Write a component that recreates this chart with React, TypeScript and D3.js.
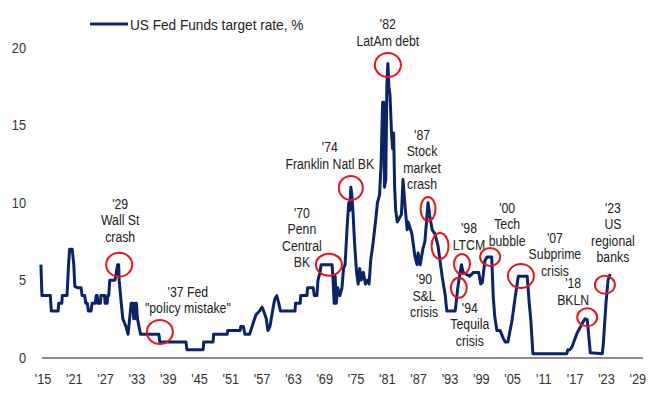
import * as d3 from "d3";

// discount-rate era: [year, rate %]
const earlyRates: [number, number][] = [
  [1914.6, 6], [1914.8, 4], [1916.4, 4], [1916.6, 3], [1917.9, 3], [1918.0, 3.5],
  [1918.6, 3.5], [1918.7, 4], [1919.6, 4], [1919.9, 6], [1920.1, 7], [1920.6, 7],
  [1920.9, 6], [1921.1, 4.6], [1921.7, 4.5], [1922.3, 4.5], [1922.5, 4], [1923.0, 4],
  [1923.2, 3.5], [1923.5, 3.5], [1923.7, 3], [1924.2, 3], [1924.4, 3.5], [1925.0, 3.5],
  [1925.2, 4], [1925.4, 4], [1925.5, 3.5], [1926.0, 3.5], [1926.1, 4], [1926.8, 4],
  [1926.9, 3.5], [1927.3, 3.5], [1927.4, 4], [1927.6, 4], [1927.8, 5], [1928.8, 5],
  [1929.3, 6], [1929.5, 6], [1929.6, 5], [1930.0, 3.5], [1930.3, 2.5], [1930.9, 2],
  [1931.3, 1.5], [1931.6, 2.5], [1931.9, 3.5], [1932.2, 3.5], [1932.4, 2.5], [1932.6, 2.5],
  [1932.7, 3.5], [1932.9, 3.5], [1933.1, 2.5], [1933.4, 2], [1933.7, 1.5], [1937.2, 1.5],
  [1937.4, 1], [1942.4, 1], [1942.6, 0.5], [1945.7, 0.5], [1945.8, 1], [1947.6, 1],
  [1947.7, 1.5], [1950.3, 1.5], [1950.4, 1.75], [1952.8, 1.75], [1952.9, 2], [1953.4, 2],
  [1953.7, 1.5],
];

const midRates: [number, number][] = [
  [1954.6, 1.5], [1955.3, 2.25], [1955.8, 2.75], [1956.5, 3], [1957.0, 3.25], [1957.3, 3],
  [1957.8, 2.5], [1958.1, 1.75], [1958.5, 2], [1959.0, 3], [1959.4, 3.75], [1959.8, 4],
  [1960.2, 3.5], [1960.5, 3], [1963.3, 3], [1963.4, 3.5], [1964.3, 3.5], [1964.4, 4],
  [1965.6, 4], [1965.7, 4.5], [1966.8, 4.5], [1967.0, 4], [1967.5, 4], [1967.7, 5],
  [1968.1, 5.5], [1968.3, 6], [1970.4, 6], [1970.6, 5], [1970.8, 3.5], [1971.0, 5.25],
  [1971.2, 3.5], [1971.5, 4.5], [1971.9, 4], [1972.3, 4.5], [1972.6, 5.75], [1972.9, 6],
  [1973.3, 8.5], [1973.6, 10], [1973.8, 9.5], [1974.0, 11], [1974.2, 10.5], [1974.4, 9.5],
  [1974.7, 7.5], [1975.1, 5.5], [1975.4, 4.75], [1975.7, 5.75], [1976.0, 5], [1976.4, 5.5],
  [1976.8, 4.75], [1977.2, 5], [1977.5, 4.75], [1977.8, 6.25], [1978.3, 7.5], [1978.8, 9],
  [1979.1, 10], [1979.5, 10.5], [1979.8, 12.5], [1980.1, 16.5], [1980.3, 16.5], [1980.45, 11],
  [1980.7, 11.5], [1980.9, 17.5], [1981.1, 19], [1981.3, 17.5], [1981.5, 17], [1981.8, 14.5],
  [1982.0, 13.5], [1982.2, 14.5], [1982.4, 11], [1982.6, 9.5], [1982.9, 8.75], [1983.3, 9],
  [1983.7, 9.25], [1984.0, 11.5], [1984.4, 9.75], [1984.8, 8.25], [1985.0, 8.75], [1985.7, 8],
  [1986.3, 6.5], [1986.7, 6], [1986.9, 6.75], [1987.3, 6], [1987.8, 7], [1988.2, 7.5],
  [1988.8, 10], [1989.2, 9], [1989.6, 8.25], [1990.1, 8], [1990.7, 7.25], [1991.5, 5.25],
  [1992.1, 4], [1992.4, 3], [1994.0, 3],
];

const lateRates: [number, number][] = [
  [1994.5, 4.5], [1994.9, 5.4], [1995.2, 6], [1995.5, 5.5], [1996.8, 5.25], [1997.5, 5.5],
  [1998.5, 5.5], [1998.9, 4.75], [1999.2, 4.85], [1999.7, 6.25], [2000.1, 6.5], [2001.0, 6.5],
  [2001.3, 3.9], [2001.6, 2.6], [2002.0, 1.75], [2002.6, 1.75], [2003.2, 1.25], [2003.6, 1],
  [2004.1, 1], [2004.9, 2.4], [2005.5, 3.9], [2006.1, 5.25], [2007.8, 5.25], [2008.2, 3.5],
  [2008.5, 2.4], [2008.9, 0.25], [2015.4, 0.25], [2015.6, 0.5], [2016.0, 0.5], [2016.4, 0.7],
  [2017.0, 1.25], [2017.4, 1.6], [2017.9, 1.9], [2018.5, 2.3], [2018.9, 2.5], [2019.3, 2.45],
  [2019.5, 1.8], [2019.9, 0.3], [2022.2, 0.25], [2022.4, 0.9], [2022.9, 3.5], [2023.3, 5],
  [2023.7, 5.4],
];

const tickYears = [1915, 1921, 1927, 1933, 1939, 1945, 1951, 1957, 1963, 1969, 1975, 1981, 1987, 1993, 1999, 2005, 2011, 2017, 2023, 2029];
const tickLabels = ["'15", "'21", "'27", "'33", "'39", "'45", "'51", "'57", "'63", "'69", "'75", "'81", "'87", "'93", "'99", "'05", "'11", "'17", "'23", "'29"];
const yTicks = [0, 5, 10, 15, 20];

// event circles: anchor year/rate, ellipse radii, label lines and offset from the circle
const events = [
  { year: 1929.6, rate: 6.0, rx: 13, ry: 12, dx: 1, dy: -56, lines: ["'29", "Wall St", "crash"] },
  { year: 1937.4, rate: 1.65, rx: 13, ry: 12, dx: 28, dy: -35, lines: ["'37 Fed", "\"policy mistake\""] },
  { year: 1969.8, rate: 6.0, rx: 13, ry: 11, dx: -27, dy: -47, lines: ["'70", "Penn", "Central", "BK"] },
  { year: 1974.0, rate: 10.95, rx: 12, ry: 12, dx: -21, dy: -36, lines: ["'74", "Franklin Natl BK"] },
  { year: 1981.1, rate: 18.9, rx: 13, ry: 12, dx: 0, dy: -36, lines: ["'82", "LatAm debt"] },
  { year: 1988.8, rate: 9.6, rx: 7.5, ry: 12, dx: -6, dy: -69, lines: ["'87", "Stock", "market", "crash"] },
  { year: 1991.1, rate: 7.2, rx: 8.5, ry: 13, dx: -16, dy: 38, lines: ["'90", "S&L", "crisis"] },
  { year: 1995.3, rate: 6.04, rx: 8, ry: 10, dx: 7, dy: -31, lines: ["'98", "LTCM"] },
  { year: 1994.7, rate: 4.5, rx: 8, ry: 10, dx: 11, dy: 25, lines: ["'94", "Tequila", "crisis"] },
  { year: 2000.7, rate: 6.5, rx: 10, ry: 9, dx: 17, dy: -44, lines: ["'00", "Tech", "bubble"] },
  { year: 2006.6, rate: 5.27, rx: 13, ry: 12, dx: 34, dy: -33, lines: ["'07", "Subprime", "crisis"] },
  { year: 2019.3, rate: 2.6, rx: 10, ry: 9, dx: -14, dy: -29, lines: ["'18", "BKLN"] },
  { year: 2022.7, rate: 4.7, rx: 10, ry: 9, dx: 8, dy: -72, lines: ["'23", "US", "regional", "banks"] },
];

const W = 658;
const H = 394;
const NAVY = "#0b2468";
const FONT = "'Liberation Sans', Arial, sans-serif";

// the source font is a condensed sans, so squeeze Liberation Sans horizontally
function Narrow({ x, y, lines, size = 15, squeeze = 0.82, anchor = "middle", fill = "#222", lh = 16.5 }: {
  x: number; y: number; lines: string[]; size?: number; squeeze?: number; anchor?: string; fill?: string; lh?: number;
}) {
  return (
    <g transform={`translate(${x},${y}) scale(${squeeze},1)`}>
      <text textAnchor={anchor} fontSize={size} fill={fill}>
        {lines.map((s, i) => (
          <tspan key={i} x={0} y={i * lh}>
            {s}
          </tspan>
        ))}
      </text>
    </g>
  );
}

export default function App() {
  const x = d3.scaleLinear().domain([1915, 2030]).range([43, 643]);
  const y = d3.scaleLinear().domain([0, 20]).range([357.5, 48]);

  const series = [...earlyRates, ...midRates, ...lateRates];
  const line = d3
    .line<[number, number]>()
    .x((d) => x(d[0]))
    .y((d) => y(d[1]));

  return (
    <svg
      width={W}
      height={H}
      style={{ position: "absolute", left: 0, top: 0, background: "#fff", fontFamily: FONT }}
    >
      {/* legend */}
      <line x1={90} x2={128} y1={24} y2={24} stroke={NAVY} strokeWidth={3} />
      <Narrow x={130} y={30} lines={["US Fed Funds target rate, %"]} size={15.5} squeeze={0.88} anchor="start" />

      {/* y labels */}
      {yTicks.map((t) => (
        <Narrow key={t} x={26} y={y(t) + 5} lines={[String(t)]} anchor="end" fill="#333" squeeze={0.85} />
      ))}

      {/* x axis */}
      <line x1={42} x2={643} y1={358} y2={358} stroke="#666" strokeWidth={1.5} />
      {tickYears.map((t, i) => (
        <Narrow key={t} x={x(t)} y={384} lines={[tickLabels[i]]} fill="#333" squeeze={0.85} />
      ))}

      <path d={line(series) ?? ""} fill="none" stroke={NAVY} strokeWidth={3} strokeLinejoin="round" />

      {events.map((e) => {
        const cx = x(e.year);
        const cy = y(e.rate);
        return (
          <g key={e.lines[0]}>
            <ellipse cx={cx} cy={cy} rx={e.rx} ry={e.ry} fill="none" stroke="#e8141b" strokeWidth={2} />
            <Narrow x={cx + e.dx} y={cy + e.dy} lines={e.lines} />
          </g>
        );
      })}
    </svg>
  );
}
